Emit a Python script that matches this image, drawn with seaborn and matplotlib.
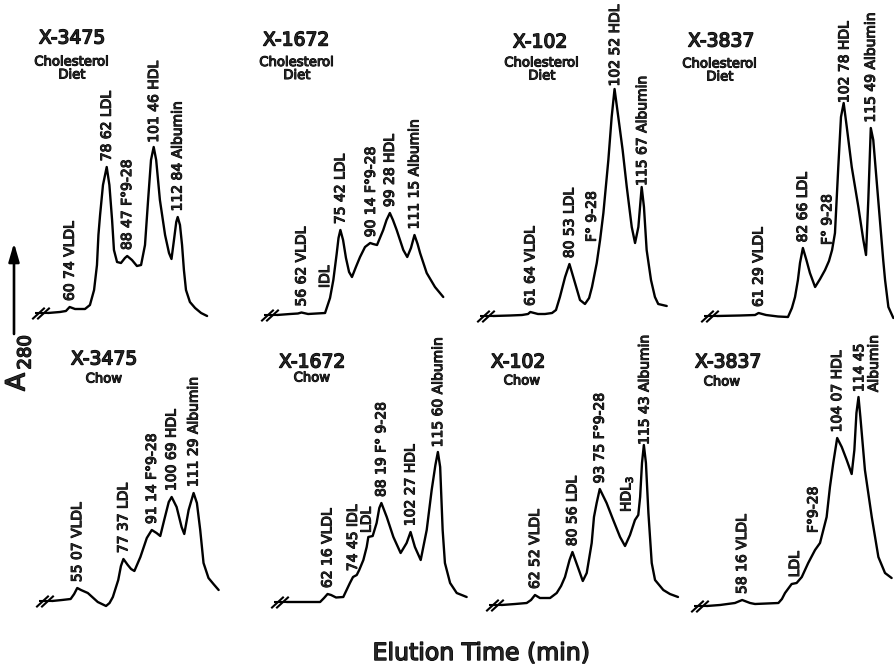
import numpy as np
import pandas as pd
import matplotlib
matplotlib.use("Agg")
import matplotlib.pyplot as plt
import matplotlib.patheffects as pe
from matplotlib.path import Path
import seaborn as sns

# ---------------- data (elution time in min, relative A280 above baseline) ----------------
x3475_chol_t = [50.2, 56.0, 58.9, 60.7, 63.3, 68.1, 70.5, 72.5, 73.9, 74.6, 75.4, 76.8, 78.6, 79.9, 81.2, 82.1,
                83.6, 85.5, 87.4, 88.5, 90.8, 93.2, 95.2, 97.1, 98.6, 100.0, 101.3, 102.5, 104.3, 106.8, 108.7,
                109.9, 111.1, 112.2, 112.9, 114.0, 115.0, 115.9, 116.9, 118.8, 121.3, 124.2, 127.1]
x3475_chol_a = [0.00, 0.01, 0.02, 0.06, 0.04, 0.04, 0.08, 0.23, 0.48, 0.78, 0.98, 1.28, 1.46, 1.28, 0.93, 0.63,
                0.51, 0.50, 0.55, 0.57, 0.53, 0.47, 0.48, 0.68, 1.13, 1.53, 1.66, 1.53, 1.13, 0.78, 0.60,
                0.54, 0.73, 0.91, 0.96, 0.88, 0.68, 0.43, 0.23, 0.11, 0.05, 0.00, -0.03]

x1672_chol_t = [44.8, 51.1, 54.9, 56.6, 59.8, 68.0, 70.4, 72.0, 73.6, 74.5, 75.4, 76.7, 78.1, 79.6, 81.0, 82.9,
                84.9, 87.3, 89.8, 91.2, 93.1, 94.5, 96.1, 97.7, 99.3, 100.8, 102.6, 104.2, 105.8, 107.7, 109.5,
                111.2, 112.7, 113.9, 117.1, 121.1, 125.1]
x1672_chol_a = [0.00, 0.01, 0.015, 0.025, 0.01, 0.02, 0.17, 0.35, 0.61, 0.77, 0.85, 0.75, 0.57, 0.43, 0.38, 0.48,
                0.58, 0.68, 0.72, 0.71, 0.70, 0.77, 0.85, 0.95, 1.02, 0.95, 0.85, 0.75, 0.65, 0.58, 0.67,
                0.80, 0.71, 0.62, 0.42, 0.28, 0.18]

x102_chol_t = [43.6, 51.8, 57.6, 60.5, 61.6, 65.3, 68.7, 72.1, 74.0, 75.9, 78.4, 80.5, 83.2, 85.6, 88.0, 90.0,
               91.4, 93.7, 95.3, 96.9, 99.3, 100.9, 102.3, 104.1, 106.2, 108.2, 110.6, 112.2, 113.8, 115.4,
               116.5, 117.8, 119.9, 121.8, 123.4, 127.5]
x102_chol_a = [0.00, 0.005, 0.01, 0.02, 0.04, 0.02, 0.02, 0.03, 0.06, 0.19, 0.39, 0.52, 0.33, 0.16, 0.12, 0.18,
               0.29, 0.53, 0.76, 1.03, 1.56, 1.99, 2.27, 1.99, 1.66, 1.29, 0.89, 0.73, 0.89, 1.29,
               1.09, 0.66, 0.36, 0.19, 0.12, 0.10]

x3837_chol_t = [41.2, 52.3, 59.6, 61.3, 64.9, 70.7, 75.5, 77.4, 78.9, 80.3, 81.3, 82.7, 84.4, 86.1, 88.6, 91.0,
                93.4, 95.3, 96.8, 98.2, 99.8, 101.1, 102.4, 103.9, 106.3, 109.5, 111.9, 113.2, 114.3, 115.5,
                116.7, 119.1, 121.5, 122.4, 124.0, 126.4]
x3837_chol_a = [0.00, 0.005, 0.01, 0.03, 0.01, -0.005, -0.01, 0.08, 0.19, 0.36, 0.53, 0.68, 0.56, 0.43, 0.29, 0.37,
                0.46, 0.55, 0.66, 0.83, 1.49, 1.99, 2.13, 1.89, 1.49, 1.09, 0.76, 0.61, 1.16, 1.88,
                1.76, 1.16, 0.56, 0.36, 0.09, -0.02]

x3475_chow_t = [42.9, 47.7, 51.9, 53.6, 55.1, 56.9, 60.2, 65.0, 69.0, 70.7, 72.3, 74.9, 76.2, 77.4, 79.5, 81.1,
                82.7, 85.6, 88.7, 91.1, 93.4, 95.2, 97.1, 99.3, 100.7, 103.1, 105.5, 106.8, 108.9, 111.3,
                112.9, 114.5, 116.1, 118.5, 120.9, 123.4]
x3475_chow_a = [0.00, 0.01, 0.02, 0.07, 0.13, 0.11, 0.08, -0.01, -0.05, -0.02, 0.04, 0.21, 0.35, 0.42, 0.36, 0.32,
                0.30, 0.44, 0.63, 0.71, 0.68, 0.65, 0.81, 0.99, 1.04, 0.94, 0.74, 0.67, 0.91, 1.08,
                0.98, 0.71, 0.38, 0.23, 0.17, 0.11]

x1672_chow_t = [42.5, 48.9, 58.6, 60.5, 62.2, 63.9, 66.3, 69.8, 73.0, 74.5, 76.3, 77.5, 79.5, 81.1, 81.9, 84.0,
                85.9, 87.2, 88.2, 90.8, 94.0, 97.5, 100.4, 102.3, 104.4, 107.2, 110.1, 112.5, 114.3, 115.5,
                116.6, 117.8, 118.9, 121.4, 124.6, 129.4]
x1672_chow_a = [0.00, 0.00, 0.00, 0.04, 0.08, 0.07, 0.045, 0.05, 0.19, 0.25, 0.27, 0.32, 0.42, 0.55, 0.65, 0.66,
                0.79, 0.94, 0.99, 0.85, 0.65, 0.49, 0.59, 0.70, 0.55, 0.42, 0.72, 1.12, 1.37, 1.50,
                1.35, 0.72, 0.39, 0.19, 0.09, 0.05]

x102_chow_t = [46.4, 52.9, 58.5, 60.6, 62.5, 64.9, 69.8, 73.0, 75.1, 77.0, 79.2, 80.6, 83.2, 85.6, 87.5, 89.9,
               91.0, 92.3, 93.8, 97.1, 100.3, 103.6, 106.0, 108.4, 110.8, 112.4, 113.3, 114.2, 115.1, 116.1,
               117.3, 118.9, 120.5, 124.5, 127.7, 131.6]
x102_chow_a = [0.00, 0.01, 0.02, 0.05, 0.10, 0.07, 0.07, 0.12, 0.19, 0.28, 0.45, 0.53, 0.38, 0.24, 0.32, 0.62,
               0.88, 1.02, 1.16, 1.02, 0.85, 0.68, 0.59, 0.70, 0.85, 0.90, 1.08, 1.42, 1.60, 1.42,
               0.92, 0.42, 0.25, 0.15, 0.11, 0.08]

x3837_chow_t = [41.1, 47.5, 54.7, 58.2, 62.0, 64.4, 75.7, 77.4, 78.9, 82.1, 84.5, 87.0, 90.1, 93.4, 95.8, 97.4,
                99.0, 100.6, 102.2, 104.1, 106.3, 108.7, 111.1, 112.4, 113.4, 114.4, 115.3, 117.5, 120.8, 124.0,
                127.2, 130.4]
x3837_chow_a = [0.00, 0.01, 0.03, 0.06, 0.03, 0.02, 0.03, 0.07, 0.13, 0.22, 0.23, 0.29, 0.43, 0.56, 0.63, 0.76,
                0.89, 1.19, 1.43, 1.68, 1.59, 1.46, 1.32, 1.56, 1.93, 2.09, 1.89, 1.36, 0.89, 0.49,
                0.33, 0.28]

# peak labels and their elution times
x3475_chol_labels = ["60 74 VLDL", "78 62 LDL", "88 47 F°9-28", "101 46 HDL", "112 84 Albumin"]
x3475_chol_label_t = [60.74, 78.62, 88.47, 101.46, 112.84]
x1672_chol_labels = ["56 62 VLDL", "IDL", "75 42 LDL", "90 14 F°9-28", "99 28 HDL", "111 15 Albumin"]
x1672_chol_label_t = [56.62, 68.0, 75.42, 90.14, 99.28, 111.15]
x102_chol_labels = ["61 64 VLDL", "80 53 LDL", "F° 9-28", "102 52 HDL", "115 67 Albumin"]
x102_chol_label_t = [61.64, 80.53, 91.3, 102.52, 115.67]
x3837_chol_labels = ["61 29 VLDL", "82 66 LDL", "F° 9-28", "102 78 HDL", "115 49 Albumin"]
x3837_chol_label_t = [61.29, 82.66, 94.5, 102.78, 115.49]
x3475_chow_labels = ["55 07 VLDL", "77 37 LDL", "91 14 F°9-28", "100 69 HDL", "111 29 Albumin"]
x3475_chow_label_t = [55.07, 77.37, 91.14, 100.69, 111.29]
x1672_chow_labels = ["62 16 VLDL", "74 45 IDL", "LDL", "88 19 F° 9-28", "102 27 HDL", "115 60 Albumin"]
x1672_chow_label_t = [62.16, 74.45, 81.1, 88.19, 102.27, 115.60]
x102_chow_labels = ["62 52 VLDL", "80 56 LDL", "93 75 F°9-28", "HDL$_3$", "115 43 Albumin"]
x102_chow_label_t = [62.52, 80.56, 93.75, 106.8, 115.43]
x3837_chow_labels = ["58 16 VLDL", "LDL", "F°9-28", "104 07 HDL", "114 45\nAlbumin"]
x3837_chow_label_t = [58.16, 83.7, 92.6, 104.07, 114.45]

animals = ["X-3475", "X-1672", "X-102", "X-3837", "X-3475", "X-1672", "X-102", "X-3837"]
diets = ["Cholesterol\nDiet"] * 4 + ["Chow"] * 4

traces_t = [x3475_chol_t, x1672_chol_t, x102_chol_t, x3837_chol_t,
            x3475_chow_t, x1672_chow_t, x102_chow_t, x3837_chow_t]
traces_a = [x3475_chol_a, x1672_chol_a, x102_chol_a, x3837_chol_a,
            x3475_chow_a, x1672_chow_a, x102_chow_a, x3837_chow_a]
labels = [x3475_chol_labels, x1672_chol_labels, x102_chol_labels, x3837_chol_labels,
          x3475_chow_labels, x1672_chow_labels, x102_chow_labels, x3837_chow_labels]
labels_t = [x3475_chol_label_t, x1672_chol_label_t, x102_chol_label_t, x3837_chol_label_t,
            x3475_chow_label_t, x1672_chow_label_t, x102_chow_label_t, x3837_chow_label_t]

# ---------------- layout (pixels) ----------------
W, H = 895, 666
S = 2.07                      # pixels per minute
PX_PER_UNIT = 100.0           # pixels per A280 unit
panel_px_offset = [-56.0, 184.3, 402.8, 631.7, -36.8, 198.8, 405.6, 621.7]
panel_baseline_px = [313, 315, 316, 316, 601, 602, 605, 606]
title_pos = [(72, 38), (296, 40), (540, 42), (721, 41), (104, 359), (312, 362), (518, 362), (728, 362)]
sub_pos = [(72, 68.5), (297, 69), (542, 69.5), (720, 70.5), (104, 379), (312, 378), (522, 381), (722, 382)]
# labels floating away from the trace: (panel, index) -> base height
label_base_override = {(1, 1): 0.27, (2, 2): 0.74, (3, 2): 0.71, (5, 2): 0.69, (6, 3): 0.93, (7, 2): 0.73}
label_dx_px = {(7, 4): 8}
LABEL_GAP = 0.06

sns.set_theme(style="white")
plt.rcParams["font.family"] = ["DejaVu Sans"]
bold = [pe.withStroke(linewidth=0.75, foreground="black")]
bolder = [pe.withStroke(linewidth=1.0, foreground="black")]

fig = plt.figure(figsize=(W / 100, H / 100), dpi=100)
fig.patch.set_facecolor("white")

slash = Path([(-0.6, -0.55), (0.6, 0.55)], [Path.MOVETO, Path.LINETO])

for i in range(8):
    t = np.asarray(traces_t[i], float)
    a = np.asarray(traces_a[i], float)
    ax = fig.add_axes([0, 0, 1, 1])
    ax.patch.set_alpha(0)
    df = pd.DataFrame({"t": t, "a": a})
    sns.lineplot(data=df, x="t", y="a", ax=ax, color="black", lw=1.7,
                 sort=False, estimator=None, legend=False)
    off = panel_px_offset[i]
    yb = panel_baseline_px[i]
    ax.set_xlim((0 - off) / S, (W - off) / S)
    ax.set_ylim((yb - H) / PX_PER_UNIT, yb / PX_PER_UNIT)
    ax.set_axis_off()

    # axis break marks at the start of the trace
    t0, a0 = t[0], a[0]
    ax.plot([t0 - 13 / S, t0], [a0, a0], color="black", lw=1.5, solid_capstyle="butt")
    ax.plot([t0 - 10 / S, t0 - 5 / S], [a0, a0], ls="none", marker=slash, ms=9,
            mew=1.5, mec="black", color="black")

    for j, (txt, lt) in enumerate(zip(labels[i], labels_t[i])):
        if (i, j) in label_base_override:
            base = label_base_override[(i, j)]
        else:
            base = np.interp(lt, t, a) + LABEL_GAP
        dx = label_dx_px.get((i, j), 0) * 0.72
        ax.annotate(txt, xy=(lt, base), xytext=(dx, 0), textcoords="offset points",
                    rotation=90, ha="center", va="bottom", fontsize=10,
                    multialignment="left", linespacing=1.05,
                    path_effects=bold, annotation_clip=False)

# overlay for panel titles and axis annotations
ov = fig.add_axes([0, 0, 1, 1])
ov.patch.set_alpha(0)
ov.set_xlim(0, W)
ov.set_ylim(H, 0)
ov.set_axis_off()

for i in range(8):
    ov.text(*title_pos[i], animals[i], ha="center", va="center", fontsize=13.5, path_effects=bolder)
    ov.text(*sub_pos[i], diets[i], ha="center", va="center", fontsize=9.5,
            linespacing=1.0, path_effects=bold)

ov.annotate("", xy=(14, 243), xytext=(14, 334),
            arrowprops=dict(arrowstyle="-|>,head_length=0.55,head_width=0.16",
                            lw=1.9, color="black", mutation_scale=20, shrinkA=0, shrinkB=0))
ov.text(17.5, 382, "A", rotation=90, ha="center", va="center", fontsize=19, path_effects=bolder)
ov.text(25.5, 352.5, "280", rotation=90, ha="center", va="center", fontsize=13, path_effects=bolder)
ov.text(481.5, 660, "Elution Time (min)", ha="center", va="baseline", fontsize=17, path_effects=bolder)

fig.savefig("out.png", dpi=100, facecolor="white")
